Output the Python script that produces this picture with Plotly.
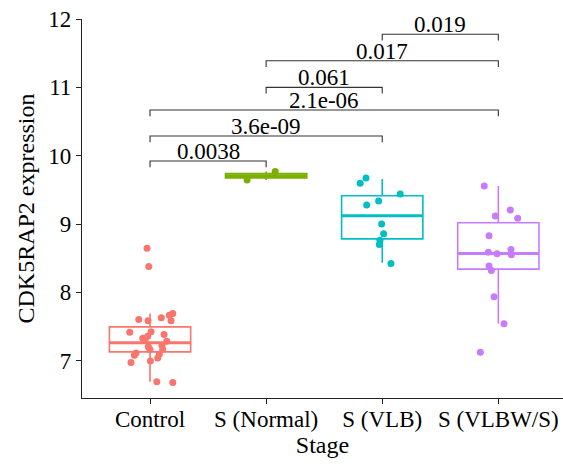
import plotly.graph_objects as go

# ---------------- data ----------------
categories = ["Control", "S (Normal)", "S (VLB)", "S (VLBW/S)"]
colors = ["#F8766D", "#7CAE00", "#00BFC4", "#C77CFF"]

control_vals = [8.647, 8.379, 7.691, 7.666, 7.627, 7.583, 7.603, 7.583, 7.417, 7.422,
                7.383, 7.359, 7.330, 7.296, 7.286, 7.227, 7.203, 7.164, 7.168, 7.095,
                7.114, 7.081, 7.041, 6.997, 6.974, 6.690, 6.681]
control_jit = [-0.026, -0.011, 0.196, 0.166, 0.097, 0.181, -0.097, -0.017, -0.175, 0.009,
               0.121, -0.020, -0.063, -0.043, 0.144, 0.103, -0.015, 0.0, 0.109, 0.080,
               -0.121, -0.135, 0.066, 0.003, -0.164, 0.058, 0.196]
normal_vals = [9.643, 9.770]
normal_jit = [-0.164, 0.078]
vlb_vals = [9.672, 9.595, 9.438, 9.335, 9.277, 8.999, 8.857, 8.764, 8.701, 8.423]
vlb_jit = [-0.140, -0.190, 0.155, -0.031, -0.134, -0.005, 0.012, -0.020, -0.025, 0.075]
vlbw_vals = [9.555, 9.204, 9.116, 9.086, 8.827, 8.588, 8.564, 8.626, 8.549, 8.384,
             8.321, 7.934, 7.539, 7.125]
vlbw_jit = [-0.121, 0.103, -0.026, 0.167, -0.080, -0.086, -0.011, 0.109, 0.112, -0.080,
            -0.060, -0.037, 0.049, -0.155]

# box statistics
q1 = [7.129, 9.675, 8.783, 8.340]
median = [7.261, 9.707, 9.120, 8.570]
q3 = [7.495, 9.738, 9.413, 9.018]
lower = [6.690, 9.643, 8.432, 7.545]
upper = [7.691, 9.770, 9.657, 9.555]

# significance brackets: (group a, group b, bracket y, label)
sig_a = [1, 1, 1, 2, 2, 3]
sig_b = [2, 3, 4, 3, 4, 4]
sig_y = [9.921, 10.287, 10.668, 11.000, 11.389, 11.776]
sig_labels = ["0.0038", "3.6e-09", "2.1e-06", "0.061", "0.017", "0.019"]

y_ticks = [7, 8, 9, 10, 11, 12]

# ---------------- figure ----------------
font_family = "Liberation Serif, Times New Roman, serif"
fig = go.Figure()
positions = [1, 2, 3, 4]
box_w = 0.7

for i in range(4):
    fig.add_trace(go.Box(
        x=[positions[i]], q1=[q1[i]], median=[median[i]], q3=[q3[i]],
        lowerfence=[lower[i]], upperfence=[upper[i]],
        width=box_w, whiskerwidth=0, boxpoints=False,
        line=dict(color=colors[i], width=1.6), fillcolor="white",
        showlegend=False, hoverinfo="skip"))
    # thicker median line
    fig.add_trace(go.Scatter(
        x=[positions[i] - box_w / 2, positions[i] + box_w / 2],
        y=[median[i], median[i]], mode="lines",
        line=dict(color=colors[i], width=3), showlegend=False, hoverinfo="skip"))

all_vals = [control_vals, normal_vals, vlb_vals, vlbw_vals]
all_jit = [control_jit, normal_jit, vlb_jit, vlbw_jit]
for i in range(4):
    fig.add_trace(go.Scatter(
        x=[positions[i] + j for j in all_jit[i]], y=all_vals[i], mode="markers",
        marker=dict(color=colors[i], size=7, line=dict(width=0)),
        showlegend=False, hoverinfo="skip"))

tick_h = 0.09
for a, b, y, lab in zip(sig_a, sig_b, sig_y, sig_labels):
    fig.add_trace(go.Scatter(
        x=[a, a, b, b], y=[y - tick_h, y, y, y - tick_h], mode="lines",
        line=dict(color="#333333", width=1.1), showlegend=False, hoverinfo="skip"))
    fig.add_annotation(x=(a + b) / 2, y=y, text=lab, showarrow=False,
                       yanchor="bottom", yshift=-4, borderpad=0,
                       font=dict(family=font_family, size=23, color="black"))

fig.update_layout(
    width=563, height=464,
    margin=dict(l=82, r=0, t=19, b=66),
    plot_bgcolor="white", paper_bgcolor="white",
    font=dict(family=font_family, size=23, color="black"),
    xaxis=dict(range=[0.414, 4.557], tickvals=positions, ticktext=categories,
               showgrid=False, zeroline=False, showline=True, linecolor="#222222",
               linewidth=1.1, ticks="outside", ticklen=5, tickcolor="#222222",
               tickfont=dict(size=23, color="black"), ticklabelstandoff=-5,
               title=dict(text="Stage", font=dict(size=24), standoff=2)),
    yaxis=dict(range=[6.454, 12], tickvals=y_ticks,
               showgrid=False, zeroline=False, showline=True, linecolor="#222222",
               linewidth=1.1, ticks="outside", ticklen=5, tickcolor="#222222",
               tickfont=dict(size=23, color="black"),
               title=dict(text="CDK5RAP2 expression", font=dict(size=24), standoff=6)),
)

fig.write_html("out.html")
